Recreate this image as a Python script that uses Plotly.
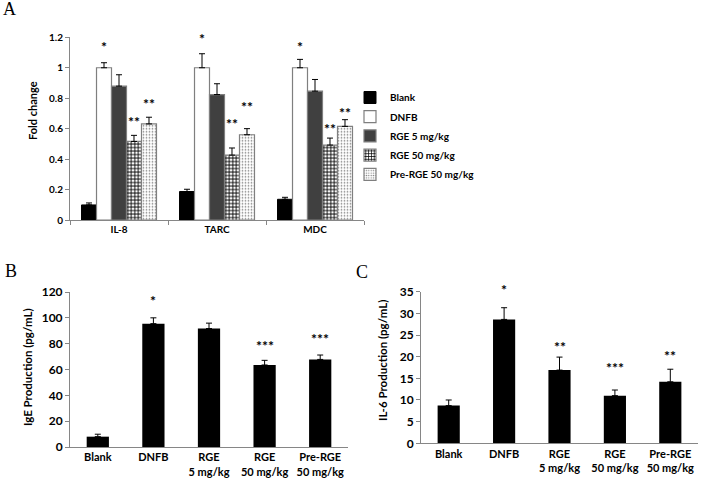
import plotly.graph_objects as go

# ---------------- data ----------------
# Panel A
a_categories = ["IL-8", "TARC", "MDC"]
a_series = ["Blank", "DNFB", "RGE 5 mg/kg", "RGE 50 mg/kg", "Pre-RGE 50 mg/kg"]
a_values = {
    "Blank": [0.099, 0.187, 0.136],
    "DNFB": [1.0, 1.0, 1.0],
    "RGE 5 mg/kg": [0.879, 0.824, 0.846],
    "RGE 50 mg/kg": [0.516, 0.426, 0.492],
    "Pre-RGE 50 mg/kg": [0.631, 0.560, 0.615],
}
a_errors = {
    "Blank": [0.013, 0.015, 0.013],
    "DNFB": [0.033, 0.092, 0.055],
    "RGE 5 mg/kg": [0.075, 0.071, 0.077],
    "RGE 50 mg/kg": [0.040, 0.047, 0.046],
    "Pre-RGE 50 mg/kg": [0.044, 0.040, 0.044],
}
# significance marks: (category, series, label, y)
a_marks = [
    ("IL-8", "DNFB", "*", 1.16), ("IL-8", "RGE 50 mg/kg", "**", 0.666), ("IL-8", "Pre-RGE 50 mg/kg", "**", 0.787),
    ("TARC", "DNFB", "*", 1.209), ("TARC", "RGE 50 mg/kg", "**", 0.655), ("TARC", "Pre-RGE 50 mg/kg", "**", 0.765),
    ("MDC", "DNFB", "*", 1.16), ("MDC", "RGE 50 mg/kg", "**", 0.622), ("MDC", "Pre-RGE 50 mg/kg", "**", 0.725),
]
a_range = [0, 1.2]

# Panels B and C
bc_categories = ["Blank", "DNFB", "RGE<br>5 mg/kg", "RGE<br>50 mg/kg", "Pre-RGE<br>50 mg/kg"]
b_values = [8.0, 95.5, 91.7, 63.5, 67.8]
b_errors = [1.9, 4.5, 4.2, 3.6, 3.4]
b_marks = ["", "*", "", "***", "***"]
b_mark_y = [None, 116, None, 81, 86]
b_range = [0, 120]

c_values = [8.7, 28.6, 16.9, 11.0, 14.2]
c_errors = [1.3, 2.7, 3.0, 1.3, 2.9]
c_marks = ["", "*", "**", "***", "**"]
c_mark_y = [None, 36.3, 23.1, 18.1, 20.9]
c_range = [0, 35]

# ---------------- styling ----------------
FONT = "Lato"
AXIS_COLOR = "#868686"
W, H = 703, 482

def px_x(p):
    return p / W

def px_y(p):
    return (H - p) / H

styles = {
    "Blank": dict(color="#000000", line=dict(color="#000000", width=1)),
    "DNFB": dict(color="#ffffff", line=dict(color="#7f7f7f", width=1.2)),
    "RGE 5 mg/kg": dict(color="#404040", line=dict(color="#7f7f7f", width=1.2)),
    "RGE 50 mg/kg": dict(color="#ffffff", line=dict(color="#7f7f7f", width=1.2),
                         pattern=dict(shape="+", size=3.5, solidity=0.45, fgcolor="#000000", bgcolor="#ffffff")),
    "Pre-RGE 50 mg/kg": dict(color="#ffffff", line=dict(color="#7f7f7f", width=1.2),
                             pattern=dict(shape=".", size=3, solidity=0.25, fgcolor="#808080", bgcolor="#ffffff")),
}

fig = go.Figure()

for i, s in enumerate(a_series):
    fig.add_trace(go.Bar(
        x=a_categories, y=a_values[s], name=s, legendgroup=s,
        marker=styles[s],
        error_y=dict(type="data", array=a_errors[s], arrayminus=[0] * len(a_errors[s]),
                     symmetric=False, color="#000000", thickness=1, width=3),
        xaxis="x", yaxis="y",
    ))

fig.add_trace(go.Bar(
    x=bc_categories, y=b_values, marker=dict(color="#000000"), showlegend=False,
    error_y=dict(type="data", array=b_errors, arrayminus=[0] * 5, symmetric=False,
                 color="#000000", thickness=1, width=3),
    xaxis="x2", yaxis="y2", width=0.4,
))
fig.add_trace(go.Bar(
    x=bc_categories, y=c_values, marker=dict(color="#000000"), showlegend=False,
    error_y=dict(type="data", array=c_errors, arrayminus=[0] * 5, symmetric=False,
                 color="#000000", thickness=1, width=3),
    xaxis="x3", yaxis="y3", width=0.4,
))

STAR_FONT = dict(family=FONT, size=14, color="#000000", weight="bold")
annotations = []
bar_px = 15
for cat, s, lab, yv in a_marks:
    k = a_series.index(s)
    annotations.append(dict(x=cat, y=yv / a_range[1], xref="x", yref="y domain", text=lab, showarrow=False,
                            xanchor="center", yanchor="middle",
                            xshift=(k - 2) * bar_px, yshift=-3, font=STAR_FONT))
for cat, lab, yv in zip(bc_categories, b_marks, b_mark_y):
    if lab:
        annotations.append(dict(x=cat, y=yv / b_range[1], xref="x2", yref="y2 domain", text=lab,
                                xanchor="center", yanchor="middle",
                                showarrow=False, yshift=-3, font=STAR_FONT))
for cat, lab, yv in zip(bc_categories, c_marks, c_mark_y):
    if lab:
        annotations.append(dict(x=cat, y=yv / c_range[1], xref="x3", yref="y3 domain", text=lab,
                                xanchor="center", yanchor="middle",
                                showarrow=False, yshift=-3, font=STAR_FONT))

# axis titles
title_font = dict(family=FONT, size=11.5, color="#000", weight="bold")
for txt, xx, yy, fs in [("Fold change", 33, 111, 11), ("IgE Production (pg/mL)", 27, 367, 11.5),
                        ("IL-6 Production (pg/mL)", 382, 361, 11.5)]:
    annotations.append(dict(x=px_x(xx), y=px_y(yy), xref="paper", yref="paper", text=txt, textangle=-90,
                            xanchor="center", yanchor="middle", showarrow=False,
                            font=dict(family=FONT, size=fs, color="#000", weight="bold")))
# panel letters
for lab, xx, yy in [("A", 9, 9), ("B", 11, 271), ("C", 362, 272)]:
    annotations.append(dict(x=px_x(xx), y=px_y(yy), xref="paper", yref="paper", text=lab, showarrow=False,
                            xanchor="center", yanchor="middle",
                            font=dict(family="Liberation Serif", size=18, color="#000")))

tickfont_a = dict(family=FONT, size=10, color="#000", weight="bold")
tickfont_bc = dict(family=FONT, size=12, color="#000", weight="bold")
catfont_bc = dict(family=FONT, size=11, color="#000", weight="bold")

common_y = dict(showgrid=False, zeroline=False, showline=True, linecolor=AXIS_COLOR, linewidth=1,
                ticks="outside", ticklen=4, tickcolor=AXIS_COLOR, automargin=False)
common_x = dict(showgrid=False, zeroline=False, showline=True, linecolor=AXIS_COLOR, linewidth=1,
                automargin=False)

fig.update_layout(
    template="none",
    width=W, height=H, margin=dict(l=0, r=0, t=0, b=0, pad=0, autoexpand=False),
    paper_bgcolor="white", plot_bgcolor="white",
    barmode="group", bargap=0.235, bargroupgap=0,
    showlegend=True,
    legend=dict(x=px_x(350), y=px_y(83), xanchor="left", yanchor="top",
                font=dict(family=FONT, size=10, color="#000", weight="bold"),
                tracegroupgap=0.2, itemwidth=30, bgcolor="rgba(0,0,0,0)", borderwidth=0),
    xaxis=dict(domain=[px_x(70), px_x(364)], anchor="y", tickfont=tickfont_a,
               ticks="outside", tickson="boundaries", ticklen=4, tickcolor=AXIS_COLOR, **common_x),
    yaxis=dict(domain=[px_y(220), px_y(37.3)], anchor="x", range=a_range, dtick=0.2,
               tickfont=tickfont_a, **common_y),
    xaxis2=dict(domain=[px_x(70), px_x(348)], anchor="y2", tickfont=catfont_bc, ticks="", **common_x),
    yaxis2=dict(domain=[px_y(447), px_y(292)], anchor="x2", range=b_range, dtick=20,
                tickfont=tickfont_bc, **common_y),
    xaxis3=dict(domain=[px_x(421), px_x(698)], anchor="y3", tickfont=catfont_bc, ticks="", **common_x),
    yaxis3=dict(domain=[px_y(443.3), px_y(291.7)], anchor="x3", range=c_range, dtick=5,
                tickfont=tickfont_bc, **common_y),
    annotations=annotations,
)

fig.write_html("out.html", config={"displayModeBar": False},
               post_script="document.body.style.margin='0';document.body.style.overflow='hidden';")
